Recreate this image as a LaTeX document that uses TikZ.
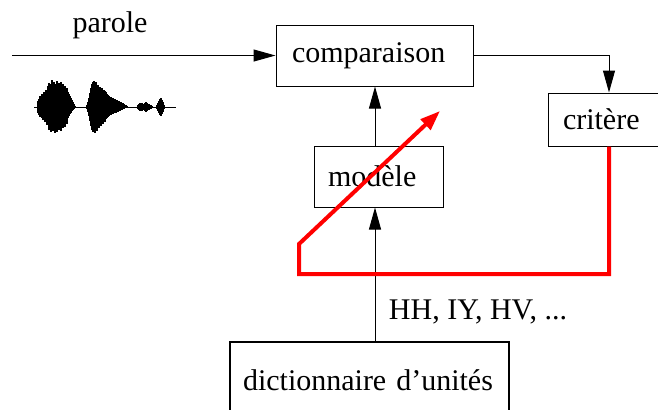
\documentclass[tikz,border=0pt]{standalone}
\usepackage{fontspec}
\setmainfont{Liberation Serif}
\usetikzlibrary{arrows.meta}
\begin{document}
\begin{tikzpicture}[x=0.5pt,y=-0.5pt,
  box/.style={draw,line width=0.5pt,inner ysep=0pt,align=left,font=\fontsize{15}{18}\selectfont},
  conn/.style={line width=0.5pt,-{Triangle[length=11pt,width=6pt]}},
  feedback/.style={draw=red,line width=2pt,line join=miter,-{Triangle[length=10pt,width=7pt]}},
  lbl/.style={font=\fontsize{15}{18}\selectfont,inner sep=0pt},
  wave/.style={line width=0.6pt}]
\useasboundingbox (0,0) rectangle (658,409);
\clip (0,0) rectangle (658,409);
% boxes
\node[box,inner xsep=8pt,text width=82.5pt,minimum height=30.5pt] (comp) at (374.5,55.5) {comparaison};
\node[box,inner xsep=7.5pt,text width=46pt,minimum height=26.5pt] (crit) at (609,119.5) {critère};
\node[box,inner xsep=7pt,text width=50.5pt,minimum height=30.5pt] (mod) at (378.5,176.5) {modèle};
\node[box,line width=1pt,inner xsep=6.5pt,text width=126.5pt,minimum height=38pt] (dict) at (369.5,380) {dictionnaire d’unités};
% labels
\node[lbl] (parole) at (110,25) {parole};
\node[lbl] (units) at (478,312) {HH, IY, HV, ...};
% connectors
\coordinate (in) at (12,55.5);
\draw[conn] (in) -- (comp.west);
\draw[conn] (comp.east) -| (crit.north);
\draw[conn] (mod.north -| 375,0) -- (comp.south -| 375,0);
\draw[conn] (dict.north -| 375,0) -- (mod.south -| 375,0);
% feedback
\coordinate (r1) at (609,274);
\coordinate (r2) at (299,274);
\coordinate (r3) at (299,244);
\coordinate (r4) at (440,111);
\draw[feedback] (crit.south) -- (r1) -- (r2) -- (r3) -- (r4);
% waveform
\draw[line width=0.5pt] (34,107) -- (176,107);
\foreach \x/\t/\b in {38/101/113, 39/99/115, 40/96/117, 41/100/114, 42/94/118, 43/97/120, 44/92/116, 45/95/122, 46/90/119, 47/93/125, 48/86/121, 49/83/130, 50/88/124, 51/84/132, 52/80/126, 53/89/131, 54/82/128, 55/87/133, 56/84/127, 57/81/132, 58/88/125, 59/83/130, 60/86/126, 61/82/131, 62/89/124, 63/84/128, 64/90/123, 65/86/127, 66/91/121, 67/88/124, 68/92/118, 69/94/116, 70/96/114, 71/98/113, 72/100/111, 73/102/110, 74/104/109, 75/106/108,
 87/105/109, 88/102/112, 89/98/116, 90/93/121, 91/88/126, 92/84/130, 93/82/132, 94/81/131, 95/83/133, 96/82/129, 97/86/131, 98/85/126, 99/88/128, 100/87/124, 101/89/126, 102/88/123, 103/90/124, 104/90/121, 105/91/122, 106/92/119, 107/94/118, 108/95/117, 109/96/116, 110/97/115, 111/97/115, 112/98/114, 113/98/114, 114/99/113, 115/99/113, 116/100/113, 117/100/112, 118/101/112, 119/101/111, 120/102/111, 121/102/110, 122/103/110, 123/103/109, 124/104/109, 125/105/108, 126/105/108, 127/106/108,
 138/105/109, 139/104/110, 140/103/111, 141/104/110, 142/103/111, 143/105/109, 144/104/110, 145/103/111, 146/102/112, 147/103/111, 148/104/110, 149/104/110, 150/105/109, 151/105/109, 152/106/108,
 157/105/109, 158/103/111, 159/101/113, 160/99/115, 161/98/116, 162/100/114, 163/102/112, 164/105/109}
  \draw[wave] (\x,\t) -- (\x,\b);
\end{tikzpicture}
\end{document}
